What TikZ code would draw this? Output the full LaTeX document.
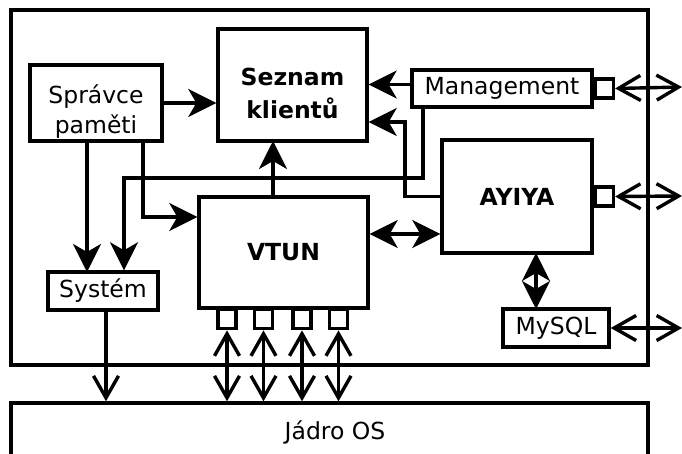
\documentclass[tikz,border=0pt]{standalone}
\usepackage{fontspec}
\setmainfont{DejaVu Sans}
\usetikzlibrary{arrows.meta,calc}
\newcommand\lowtext[2]{\raisebox{-#1}[\height][\depth]{\begin{tabular}{@{}c@{}}#2\end{tabular}}}
\begin{document}
\begin{tikzpicture}[x=1pt,y=-1pt, line width=3.4pt,
  box/.style={draw, rectangle, inner sep=0pt, align=center, font=\fontsize{23.5}{29}\selectfont},
  bbox/.style={box, font=\fontsize{23.5}{30}\selectfont\bfseries},
  port/.style={draw, rectangle, inner sep=0pt, minimum width=18pt, minimum height=19pt},
  frame/.style={draw, rectangle, inner sep=0pt},
  arr/.style={-{Stealth[length=28pt,width=28pt,inset=8pt]}},
  darr/.style={{Stealth[length=28pt,width=28pt,inset=8pt]}-{Stealth[length=28pt,width=28pt,inset=8pt]}},
  oarr/.style={-{Straight Barb[length=22pt,width=25pt]}},
  doarr/.style={{Straight Barb[length=22pt,width=25pt]}-{Straight Barb[length=22pt,width=25pt]}},
]
\useasboundingbox (0,0) rectangle (682,454);
% frames
\node[frame, minimum width=637pt, minimum height=355pt] (outer) at (329.5,187.5) {};
\node[frame, minimum width=637pt, minimum height=90pt] (jadro) at (329.5,448) {};
\node[font=\fontsize{23.5}{29}\selectfont] (jadrotext) at (335,432) {Jádro OS};
% boxes
\node[box, minimum width=132pt, minimum height=76pt] (sprava) at (96,103) {\lowtext{10pt}{Správce\\[1pt]paměti}};
\node[bbox, minimum width=149pt, minimum height=112pt] (seznam) at (292.5,85) {\lowtext{11pt}{Seznam\\[3pt]klientů}};
\node[box, minimum width=180pt, minimum height=37pt] (mgmt) at (502,88.5) {Management};
\node[port, anchor=west] (mport) at (mgmt.east) {};
\node[bbox, minimum width=150pt, minimum height=113pt] (ayiya) at (517,196.5) {AYIYA};
\node[port, anchor=west] (aport) at (ayiya.east) {};
\node[bbox, minimum width=169pt, minimum height=111pt] (vtun) at (283.5,252.5) {VTUN};
\node[port, anchor=north] (p1) at (227,308) {};
\node[port, anchor=north] (p2) at (263.5,308) {};
\node[port, anchor=north] (p3) at (302,308) {};
\node[port, anchor=north] (p4) at (338.5,308) {};
\node[box, minimum width=110pt, minimum height=38pt] (sys) at (103,291) {Systém};
\node[box, minimum width=106pt, minimum height=38pt] (mysql) at (556,328) {MySQL};
% helper coordinates
\coordinate (mout) at (682,87);
\coordinate (aout) at (682,196);
\coordinate (qout) at (682,328);
\coordinate (k1) at (405,122);
\coordinate (m1) at (423,178);
\coordinate (m2) at (124,178);
\coordinate (v1) at (143,217);
% connectors
\draw[arr] (sprava.east) -- (sprava.east -| seznam.west);
\draw[arr] ([yshift=4pt]mgmt.west) -- ([yshift=4pt]mgmt.west -| seznam.east);
\draw[arr] (ayiya.west) -| (k1) -- (k1 -| seznam.east);
\draw[arr] (m1 |- mgmt.south) -- (m1) -- (m2) -- (m2 |- sys.north);
\draw[arr] (87,141) -- (87,272);
\draw[arr] (v1 |- sprava.south) -- (v1) -- (v1 -| vtun.west);
\draw[arr] (273,197) -- (273,141);
\draw[darr] (vtun.east |- 0,234) -- (ayiya.west |- 0,234);
\draw[darr] (536,253) -- (536,309);
\draw[doarr] (mport.east) -- (mout);
\draw[doarr] (aport.east) -- (aout);
\draw[doarr] (mysql.east) -- (qout);
\draw[oarr] ([xshift=3pt]sys.south) -- ([xshift=3pt]sys.south |- jadro.north);
\foreach \p in {p1,p2,p3,p4}
  \draw[doarr] (\p.south) -- (\p.south |- jadro.north);
\end{tikzpicture}
\end{document}
